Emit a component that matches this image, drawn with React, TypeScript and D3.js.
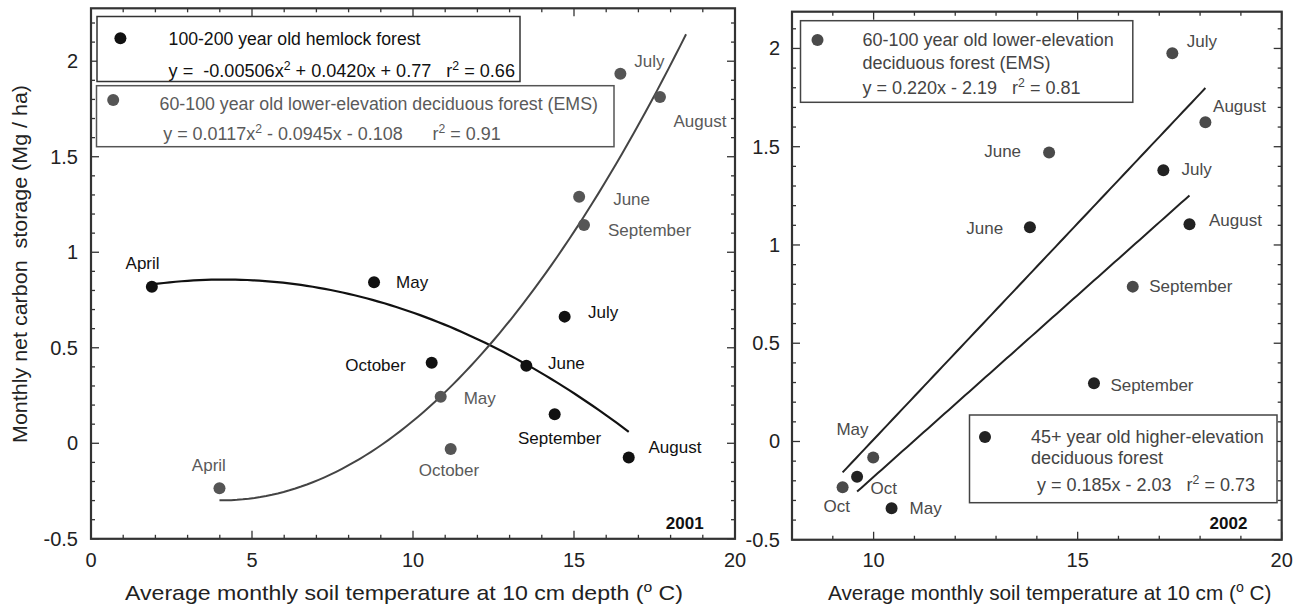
import React from 'react';
import * as d3 from 'd3';

const FONT = '"Liberation Sans", Arial, Helvetica, sans-serif';

// ---------- 2001 (left panel) ----------
const months2001 = ['April', 'May', 'June', 'July', 'August', 'September', 'October'];
const hemlockTemp2001 = [1.89, 8.79, 13.52, 14.71, 16.7, 14.4, 10.58];
const hemlockCarbon2001 = [0.82, 0.843, 0.406, 0.663, -0.075, 0.152, 0.422];
const emsTemp2001 = [3.99, 10.86, 15.16, 16.44, 17.67, 15.31, 11.17];
const emsCarbon2001 = [-0.236, 0.244, 1.29, 1.934, 1.813, 1.143, -0.03];
const hemlockFit2001 = [-0.00506, 0.042, 0.77];
const hemlockFitRange2001 = [1.89, 16.7];
const emsFit2001 = [0.0117, -0.0945, -0.108];
const emsFitRange2001 = [3.99, 18.48];

// ---------- 2002 (right panel) ----------
const months2002 = ['May', 'June', 'July', 'August', 'September', 'Oct'];
const emsTemp2002 = [9.99, 14.3, 17.32, 18.13, 16.35, 9.24];
const emsCarbon2002 = [-0.082, 1.47, 1.975, 1.624, 0.788, -0.233];
const highTemp2002 = [10.44, 13.83, 17.1, 17.74, 15.4, 9.595];
const highCarbon2002 = [-0.34, 1.09, 1.38, 1.105, 0.296, -0.179];
const emsFit2002 = [0.22, -2.19];
const highFit2002 = [0.185, -2.03];

// tick labels
const yTickLabels = [-0.5, 0, 0.5, 1, 1.5, 2];
const xTickLabelsLeft = [0, 5, 10, 15, 20];
const xTickLabelsRight = [10, 15, 20];

// label placement (dx, dy, anchor) — layout only
type LP = [number, number, string];
const hemLabelPos: LP[] = [[-9.3, -23.4, 'middle'], [22, 0, 'start'], [21.6, -2.4, 'start'], [23.3, -4, 'start'], [19.8, -9.7, 'start'], [4.9, 24.4, 'middle'], [-26, 3, 'end']];
const ems01LabelPos: LP[] = [[-10.6, -23.3, 'middle'], [23, 1.6, 'start'], [34, 3, 'start'], [14, -12, 'start'], [40, 25, 'middle'], [24, 6, 'start'], [-1.7, 21.7, 'middle']];
const ems02LabelPos: LP[] = [[-20.7, -27.7, 'middle'], [-28, -1.3, 'end'], [14.4, -11.6, 'start'], [7.7, -16.3, 'start'], [16.4, 0, 'start'], [-5.9, 19.4, 'middle']];
const high02LabelPos: LP[] = [[18, 0, 'start'], [-26.8, 1, 'end'], [18.1, -1, 'start'], [19.5, -4.3, 'start'], [16.4, 1.7, 'start'], [13.4, 12.3, 'start']];

const FRAME = '#333';

function Frame({ xs, ys, xMinorStep, yMinorStep, xLabels, yLabels, labelRight }: any) {
  const [x0, x1] = xs.range();
  const [y0, y1] = ys.range(); // y0 bottom, y1 top
  const [dx0, dx1] = xs.domain();
  const [dy0, dy1] = ys.domain();
  const xMinor = d3.range(Math.ceil(dx0), dx1 + 1e-6, xMinorStep);
  const yMinor = d3.range(dy0, dy1 + 1e-6, yMinorStep).map((v) => Math.round(v * 10) / 10);
  const isMajorX = (v: number) => Math.abs(v % 5) < 1e-6;
  const isMajorY = (v: number) => Math.abs((v * 2) % 1) < 1e-6;
  const ticks: any[] = [];
  xMinor.forEach((v, i) => {
    const L = isMajorX(v) ? 8 : 4;
    const px = xs(v);
    ticks.push(<line key={'xb' + i} x1={px} x2={px} y1={y0} y2={y0 - L} />);
    ticks.push(<line key={'xt' + i} x1={px} x2={px} y1={y1} y2={y1 + L} />);
  });
  yMinor.forEach((v, i) => {
    const L = isMajorY(v) ? 8 : 4;
    const py = ys(v);
    ticks.push(<line key={'yl' + i} x1={x0} x2={x0 + L} y1={py} y2={py} />);
    ticks.push(<line key={'yr' + i} x1={x1} x2={x1 - L} y1={py} y2={py} />);
  });
  return (
    <g>
      <g stroke={FRAME} strokeWidth={1.3}>{ticks}</g>
      <rect x={x0} y={y1} width={x1 - x0} height={y0 - y1} fill="none" stroke={FRAME} strokeWidth={2.2} />
      <g fontFamily={FONT} fontSize={20} fill="#222">
        {yLabels.map((v: number) => (
          <text key={'yt' + v} x={labelRight} y={ys(v)} textAnchor="end" dominantBaseline="central">{String(v)}</text>
        ))}
        {xLabels.map((v: number) => (
          <text key={'xt' + v} x={xs(v)} y={560} textAnchor="middle" dominantBaseline="central">{String(v)}</text>
        ))}
      </g>
    </g>
  );
}

function Points({ xs, ys, tx, cy, names, pos, dotFill, textFill }: any) {
  return (
    <g>
      {tx.map((t: number, i: number) => (
        <circle key={'c' + i} cx={xs(t)} cy={ys(cy[i])} r={6} fill={dotFill} />
      ))}
      <g fontFamily={FONT} fontSize={17} fill={textFill}>
        {tx.map((t: number, i: number) => (
          <text key={'t' + i} x={xs(t) + pos[i][0]} y={ys(cy[i]) + pos[i][1]} textAnchor={pos[i][2]} dominantBaseline="central">{names[i]}</text>
        ))}
      </g>
    </g>
  );
}

const sup = (s: string) => (
  <tspan baselineShift="super" fontSize="0.68em">{s}</tspan>
);

export default function App() {
  // left panel scales
  const xL = d3.scaleLinear().domain([0, 20]).range([91, 735]);
  const yL = d3.scaleLinear().domain([-0.5, 2.277]).range([538.8, 8.3]);
  // right panel scales
  const xR = d3.scaleLinear().domain([8, 20]).range([792, 1281.7]);
  const yR = d3.scaleLinear().domain([-0.5, 2.187]).range([539.75, 11.7]);

  const quad = (c: number[]) => (x: number) => c[0] * x * x + c[1] * x + c[2];
  const lin = (c: number[]) => (x: number) => c[0] * x + c[1];

  const curve = (xs: any, ys: any, f: (x: number) => number, a: number, b: number) => {
    const n = 80;
    const pts = d3.range(n + 1).map((i) => a + ((b - a) * i) / n);
    return d3.line<number>().x((x) => xs(x)).y((x) => ys(f(x))).curve(d3.curveLinear)(pts) as string;
  };

  const hemPath = curve(xL, yL, quad(hemlockFit2001), hemlockFitRange2001[0], hemlockFitRange2001[1]);
  const emsPath = curve(xL, yL, quad(emsFit2001), emsFitRange2001[0], emsFitRange2001[1]);
  const ems02Path = curve(xR, yR, lin(emsFit2002), d3.min(emsTemp2002)!, d3.max(emsTemp2002)!);
  const high02Path = curve(xR, yR, lin(highFit2002), d3.min(highTemp2002)!, d3.max(highTemp2002)!);

  const GRAY = '#5a5a5a';

  return (
    <svg width={1305} height={608} style={{ position: 'absolute', left: 0, top: 0, background: '#fff' }}>
      <rect x={0} y={0} width={1305} height={608} fill="#fff" />

      {/* ----- Left panel ----- */}
      <Frame xs={xL} ys={yL} xMinorStep={1} yMinorStep={0.1} xLabels={xTickLabelsLeft} yLabels={yTickLabels} labelRight={78} />
      <path d={hemPath} fill="none" stroke="#111" strokeWidth={2.2} />
      <path d={emsPath} fill="none" stroke="#444" strokeWidth={2} />
      <Points xs={xL} ys={yL} tx={hemlockTemp2001} cy={hemlockCarbon2001} names={months2001} pos={hemLabelPos} dotFill="#111" textFill="#111" />
      <Points xs={xL} ys={yL} tx={emsTemp2001} cy={emsCarbon2001} names={months2001} pos={ems01LabelPos} dotFill="#555" textFill={GRAY} />

      {/* legends left */}
      <rect x={97} y={16.5} width={423} height={65} fill="#fff" stroke="#333" strokeWidth={1.5} />
      <circle cx={120.4} cy={38.3} r={6} fill="#111" />
      <g fontFamily={FONT} fontSize={17.5} fill="#111">
        <text x={168.6} y={45} textLength={251.8} lengthAdjust="spacingAndGlyphs">100-200 year old hemlock forest</text>
        <text x={168.6} y={77} xmlSpace="preserve" textLength={346.4} lengthAdjust="spacingAndGlyphs">y =  -0.00506x{sup('2')} + 0.0420x + 0.77   r{sup('2')} = 0.66</text>
      </g>
      <rect x={96.5} y={85.7} width={517.5} height={61} fill="#fff" stroke="#555" strokeWidth={1.5} />
      <circle cx={113.2} cy={100} r={6} fill="#555" />
      <g fontFamily={FONT} fontSize={17.5} fill={GRAY}>
        <text x={159.6} y={110} textLength={438.3} lengthAdjust="spacingAndGlyphs">60-100 year old lower-elevation deciduous forest (EMS)</text>
        <text x={163.2} y={139.5} xmlSpace="preserve" textLength={337.5} lengthAdjust="spacingAndGlyphs">y = 0.0117x{sup('2')} - 0.0945x - 0.108      r{sup('2')} = 0.91</text>
      </g>
      <text x={703.6} y={523.3} textAnchor="end" dominantBaseline="central" fontFamily={FONT} fontSize={17} fontWeight="bold" fill="#111">2001</text>

      {/* axis titles left */}
      <text x={125} y={600} fontFamily={FONT} fontSize={20.7} fill="#222" textLength={558} lengthAdjust="spacingAndGlyphs">Average monthly soil temperature at 10 cm depth ({sup('o')} C)</text>
      <text transform="translate(27,264) rotate(-90)" textAnchor="middle" fontFamily={FONT} fontSize={20.7} fill="#222" xmlSpace="preserve" textLength={358} lengthAdjust="spacingAndGlyphs">Monthly net carbon  storage (Mg / ha)</text>

      {/* ----- Right panel ----- */}
      <Frame xs={xR} ys={yR} xMinorStep={1} yMinorStep={0.1} xLabels={xTickLabelsRight} yLabels={yTickLabels} labelRight={780} />
      <path d={ems02Path} fill="none" stroke="#222" strokeWidth={2} />
      <path d={high02Path} fill="none" stroke="#222" strokeWidth={2} />
      <Points xs={xR} ys={yR} tx={emsTemp2002} cy={emsCarbon2002} names={months2002} pos={ems02LabelPos} dotFill="#4a4a4a" textFill="#4a4a4a" />
      <Points xs={xR} ys={yR} tx={highTemp2002} cy={highCarbon2002} names={months2002} pos={high02LabelPos} dotFill="#222" textFill="#4a4a4a" />

      <rect x={800.5} y={20.7} width={332.3} height={81.6} fill="#fff" stroke="#444" strokeWidth={1.5} />
      <circle cx={817.5} cy={40} r={6} fill="#4a4a4a" />
      <g fontFamily={FONT} fontSize={18} fill="#444">
        <text x={862.5} y={40} dominantBaseline="central">60-100 year old lower-elevation</text>
        <text x={862.5} y={62.7} dominantBaseline="central">deciduous forest (EMS)</text>
        <text x={862.5} y={93.5} xmlSpace="preserve">y = 0.220x - 2.19   r{sup('2')} = 0.81</text>
      </g>

      <rect x={969.5} y={415} width={307.5} height={87.7} fill="#fff" stroke="#444" strokeWidth={1.5} />
      <circle cx={985} cy={437} r={6} fill="#222" />
      <g fontFamily={FONT} fontSize={18} fill="#444">
        <text x={1031} y={437} dominantBaseline="central">45+ year old higher-elevation</text>
        <text x={1031} y={458} dominantBaseline="central">deciduous forest</text>
        <text x={1037} y={490.5} xmlSpace="preserve">y = 0.185x - 2.03   r{sup('2')} = 0.73</text>
      </g>
      <text x={1247.4} y={523.3} textAnchor="end" dominantBaseline="central" fontFamily={FONT} fontSize={17} fontWeight="bold" fill="#111">2002</text>

      <text x={828} y={600} fontFamily={FONT} fontSize={20.7} fill="#222" textLength={443.5} lengthAdjust="spacingAndGlyphs">Average monthly soil temperature at 10 cm ({sup('o')} C)</text>
    </svg>
  );
}
